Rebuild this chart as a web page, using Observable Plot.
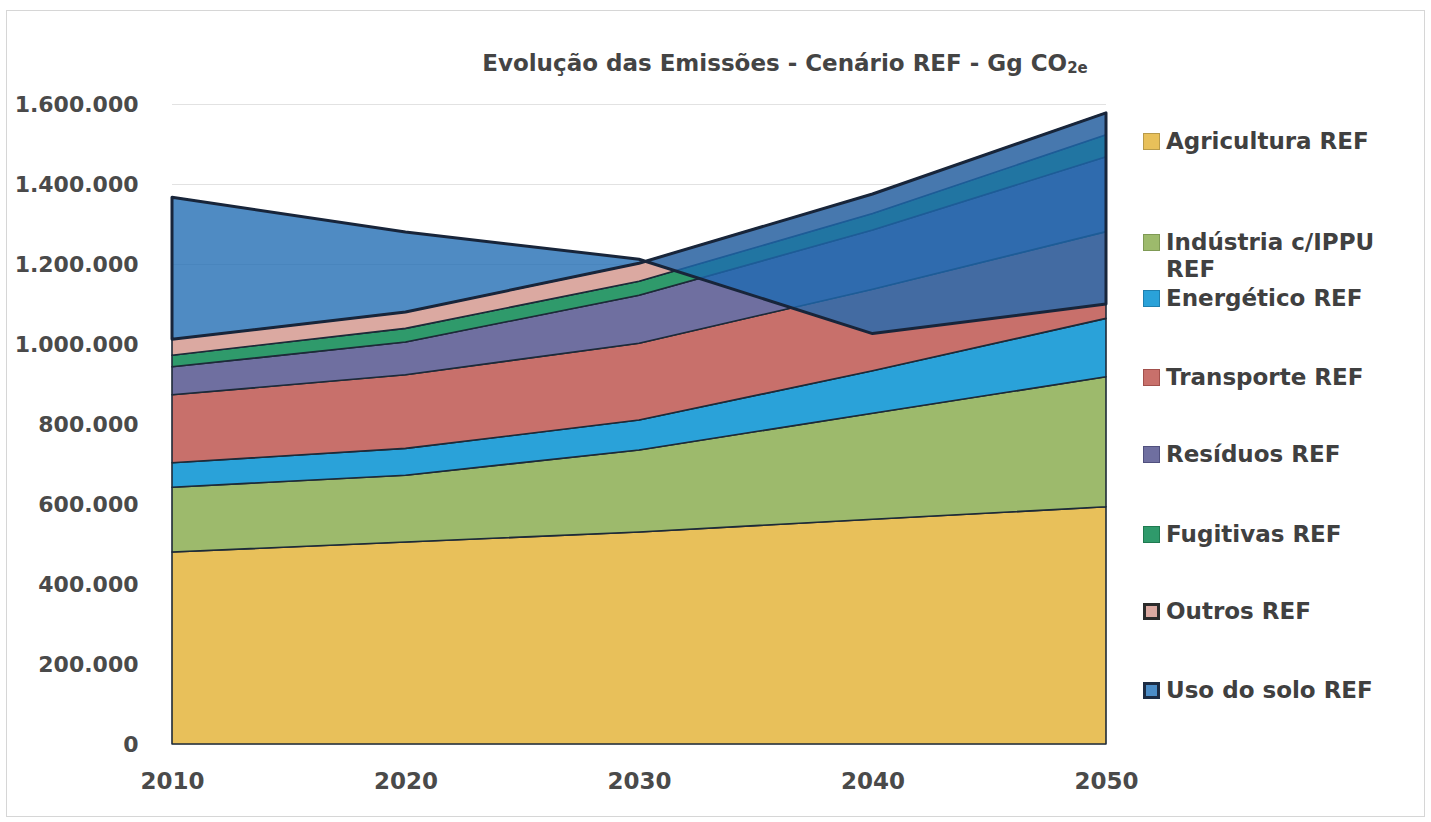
<!DOCTYPE html>
<html>
<head>
<meta charset="utf-8">
<script src="https://cdn.jsdelivr.net/npm/d3@7"></script>
<script src="https://cdn.jsdelivr.net/npm/@observablehq/plot@0.6"></script>
<style>
  html, body { margin: 0; padding: 0; background: #fff; }
  #wrap { position: relative; width: 1431px; height: 822px; overflow: hidden; font-family: "DejaVu Sans", sans-serif; }
  #frame { position: absolute; left: 6px; top: 10px; width: 1417px; height: 805px; border: 1px solid #d6d6d6; }
  #title { position: absolute; left: 0; width: 1570px; top: 50px; text-align: center; font-size: 23px; font-weight: bold; color: #444; }
  #title sub { font-size: 15px; vertical-align: -2px; }
  #chart { position: absolute; left: 0; top: 0; }
  .lg { position: absolute; font-size: 23px; font-weight: bold; color: #404040; white-space: nowrap; line-height: 23px; }
  .sw { position: absolute; width: 17px; height: 17px; box-sizing: border-box; }
</style>
</head>
<body>
<div id="wrap">
  <div id="frame"></div>
  <div id="chart"></div>
  <div id="title">Evolução das Emissões - Cenário REF - Gg CO<sub>2e</sub></div>
  <div id="legend"></div>
</div>
<script>
// ---- data (Gg CO2e) ----
const years = [2010, 2020, 2030, 2040, 2050];
const seriesNames = ["Agricultura REF", "Indústria c/IPPU REF", "Energético REF", "Transporte REF", "Resíduos REF", "Fugitivas REF", "Outros REF", "Uso do solo REF"];
const agricultura = [480000, 505000, 530000, 562000, 593000];
const industria   = [162000, 167000, 205000, 265000, 325000];
const energetico  = [61000, 67000, 75000, 106000, 146000];
const transporte  = [170000, 184000, 192000, 204000, 217000];
const residuos    = [70000, 82000, 120000, 148000, 187000];
const fugitivas   = [29000, 34000, 35000, 41000, 55000];
const outros      = [40000, 41000, 45000, 49000, 55000];
const usoDoSolo   = [355000, 200000, 10000, -349000, -478000];
const yTicks = [0, 200000, 400000, 600000, 800000, 1000000, 1200000, 1400000, 1600000];
const colors = ["#e8c05a", "#9dba6c", "#2aa2d9", "#c8706b", "#6f6fa0", "#2f9a6b", "#dba9a1", "#4b8cc6"];
const usoOverlay = "#1e6ab2";

// ---- build stacked rows (Excel-style: negative values stack downward from the running total) ----
const stackedSeries = [agricultura, industria, energetico, transporte, residuos, fugitivas, outros];
const stackRows = [];
const totals = years.map(() => 0);
stackedSeries.forEach((vals, s) => {
  years.forEach((yr, i) => {
    const y1 = totals[i];
    const y2 = y1 + vals[i];
    stackRows.push({year: yr, series: seriesNames[s], y1, y2});
    totals[i] = y2;
  });
});
const usoRows = years.map((yr, i) => ({year: yr, series: seriesNames[7], y1: totals[i], y2: totals[i] + usoDoSolo[i]}));

const fmt = d => d3.format(",")(d).replace(/,/g, ".");

const chart = Plot.plot({
  width: 1431,
  height: 822,
  marginLeft: 172,
  marginRight: 325,
  marginTop: 104,
  marginBottom: 78,
  style: {fontFamily: "DejaVu Sans", fontSize: "22px", fontWeight: "bold", color: "#4a4a4a", background: "transparent"},
  x: {domain: [2010, 2050], ticks: years, tickFormat: d => String(d), tickSize: 0, tickPadding: 28, label: null},
  y: {domain: [0, 1600000], ticks: yTicks, tickFormat: fmt, tickSize: 0, tickPadding: 34, label: null},
  color: {domain: seriesNames, range: colors},
  marks: [
    Plot.gridY(yTicks, {stroke: "#e2e2e2", strokeOpacity: 1, strokeWidth: 1}),
    Plot.areaY(stackRows, {x: "year", y1: "y1", y2: "y2", z: "series", fill: "series", stroke: "#1d2a38", strokeWidth: 1.6, strokeLinejoin: "round"}),
    Plot.areaY(usoRows, {x: "year", y1: "y1", y2: "y2", fill: usoOverlay, fillOpacity: 0.78, stroke: "#18253a", strokeWidth: 3, strokeLinejoin: "round"})
  ]
});
chart.querySelectorAll('[aria-label="x-axis tick label"] text').forEach(t => t.style.fontSize = "23px");
document.getElementById("chart").appendChild(chart);

// ---- legend ----
const legendY = [142, 243, 299, 378, 455, 535, 612, 691];
const legendLines = [["Agricultura REF"], ["Indústria c/IPPU", "REF"], ["Energético REF"], ["Transporte REF"], ["Resíduos REF"], ["Fugitivas REF"], ["Outros REF"], ["Uso do solo REF"]];
const borders = ["#b89a4a", "#7f9a55", "#1f7fae", "#a2504c", "#50507e", "#1f7a50", "#2b2b2b", "#1c2c44"];
const lg = document.getElementById("legend");
legendLines.forEach((lines, i) => {
  const sw = document.createElement("div");
  sw.className = "sw";
  sw.style.left = "1143px";
  sw.style.top = (legendY[i] - 9) + "px";
  sw.style.background = colors[i];
  sw.style.border = (i >= 6 ? "3px" : "1px") + " solid " + borders[i];
  lg.appendChild(sw);
  lines.forEach((t, j) => {
    const el = document.createElement("div");
    el.className = "lg";
    el.textContent = t;
    el.style.left = "1166px";
    el.style.top = (legendY[i] - 12 + j * 27) + "px";
    lg.appendChild(el);
  });
});
</script>
</body>
</html>
